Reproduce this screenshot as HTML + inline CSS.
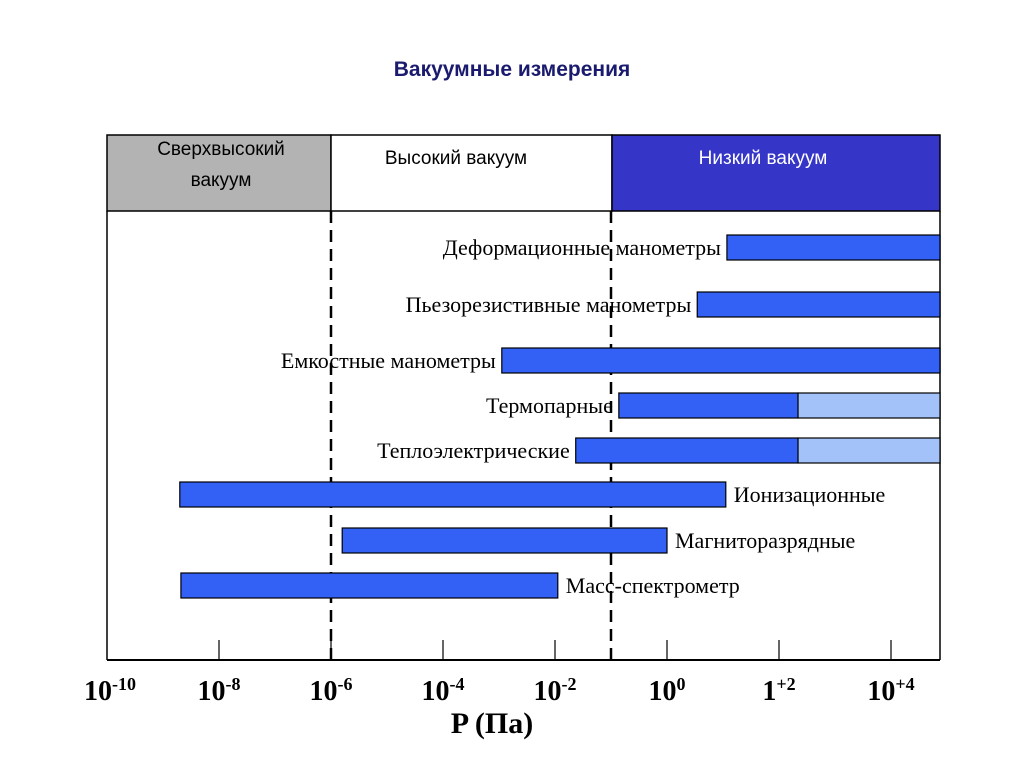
<!DOCTYPE html>
<html><head><meta charset="utf-8">
<style>
body{margin:0;background:#fff;width:1024px;height:768px;overflow:hidden}
svg{display:block}
.lab{font-family:"Liberation Serif",serif;font-size:22px;fill:#000}
.hdr{font-family:"Liberation Sans",sans-serif;font-size:19px}
.tk{font-family:"Liberation Serif",serif;font-size:28px;font-weight:bold;fill:#000}
</style></head><body>
<svg width="1024" height="768">
<text x="512" y="76" text-anchor="middle" font-family="Liberation Sans,sans-serif" font-size="21" font-weight="bold" fill="#1a1a6e">Вакуумные измерения</text>
<g>
<rect x="107" y="135" width="224" height="76" fill="#b3b3b3" stroke="#000" stroke-width="1.5"/>
<rect x="331" y="135" width="281" height="76" fill="#fff" stroke="#000" stroke-width="1.5"/>
<rect x="612" y="135" width="328" height="76" fill="#3535c8" stroke="#000" stroke-width="1.5"/>
<text class="hdr" x="221" y="155" text-anchor="middle">Сверхвысокий</text>
<text class="hdr" x="221" y="186" text-anchor="middle">вакуум</text>
<text class="hdr" x="456" y="164" text-anchor="middle">Высокий вакуум</text>
<text class="hdr" x="763" y="164" text-anchor="middle" fill="#fff">Низкий вакуум</text>
</g>
<line x1="107" y1="211" x2="107" y2="660" stroke="#000" stroke-width="1.5"/>
<line x1="940" y1="211" x2="940" y2="660" stroke="#000" stroke-width="1.5"/>
<line x1="107" y1="660" x2="940" y2="660" stroke="#000" stroke-width="2"/>
<g id="g"></g>
<text x="492" y="733" text-anchor="middle" font-family="Liberation Serif,serif" font-size="30" font-weight="bold">P (Па)</text>
</svg>
<script>
const tickExp=[-10,-8,-6,-4,-2,0,2,4];
const tickBase=["10","10","10","10","10","10","1","10"];
const tickSup=["-10","-8","-6","-4","-2","0","+2","+4"];
const dividers=[-6,-1];
const names=["Деформационные манометры","Пьезорезистивные манометры","Емкостные манометры","Термопарные","Теплоэлектрические","Ионизационные","Магниторазрядные","Масс-спектрометр"];
const starts=[1.07,0.54,-2.95,-0.86,-1.63,-8.7,-5.8,-8.68];
const mids=[null,null,null,2.34,2.34,null,null,null];
const ends=[4.9,4.9,4.9,4.9,4.9,1.05,0,-1.95];
const rowY=[235,292,348,393,438,482,528,573];
const labelSide=["left","left","left","left","left","right","right","right"];
const NS="http://www.w3.org/2000/svg";
const g=document.getElementById('g');
const X=e=>107+(e+10)*56;
function mk(t,a){const el=document.createElementNS(NS,t);for(const k in a)el.setAttribute(k,a[k]);g.appendChild(el);return el;}
tickExp.forEach((e,i)=>{
 if(i>0&&i<tickExp.length){const l=mk('line',{x1:X(e),y1:640,x2:X(e),y2:660,stroke:'#000','stroke-width':1.2});
 
 }
 const t=mk('text',{x:X(e)+(i==0?3:0),y:700,'text-anchor':'middle',class:'tk'});
 
 
 t.innerHTML=tickBase[i]+'<tspan dy="-10" font-size="18">'+tickSup[i]+'</tspan>';
});
dividers.forEach((e,i)=>{const l=mk('line',{x1:X(e),y1:211,x2:X(e),y2:660,stroke:'#000','stroke-width':2.5,'stroke-dasharray':'12,7'});
 
 });
names.forEach((n,i)=>{
 const x0=X(starts[i]),x1=Math.min(X(ends[i]),940),xm=mids[i]==null?x1:X(mids[i]),y=rowY[i];
 const b=mk('rect',{x:x0,y:y,width:xm-x0,height:25,fill:'#3361f5',stroke:'#000','stroke-width':1.2});
 
 
 if(mids[i]!=null){const b2=mk('rect',{x:xm,y:y,width:x1-xm,height:25,fill:'#a3c2fa',stroke:'#000','stroke-width':1.2});
 
 }
 const left=labelSide[i]=='left';
 const t=mk('text',{x:left?x0-6:x1+8,y:y+20,'text-anchor':left?'end':'start',class:'lab'});
 
 
 t.textContent=n;
});
</script>
</body></html>
